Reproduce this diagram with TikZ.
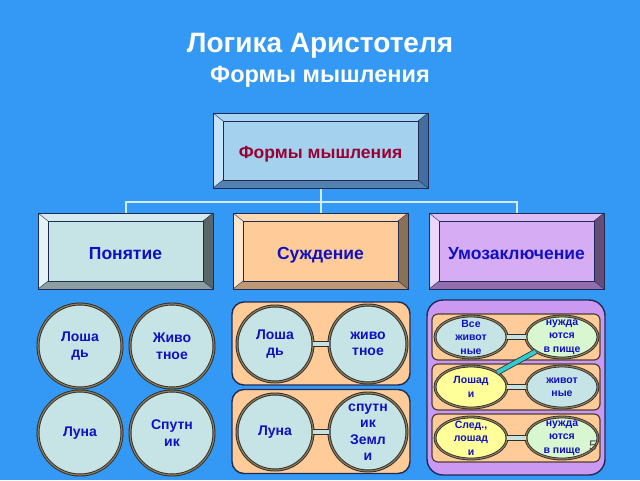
\documentclass[tikz,border=0pt]{standalone}
\usepackage{fontspec}
\setmainfont{Liberation Sans}
\usetikzlibrary{shapes.geometric}

\definecolor{sky}{HTML}{3498F5}
\definecolor{navy}{HTML}{1F2A55}
\definecolor{ink}{HTML}{1010C0}
\definecolor{wine}{HTML}{990033}
\definecolor{paleline}{HTML}{D4EAFF}
\definecolor{rim}{HTML}{2E2E2E}
\definecolor{olive}{HTML}{8C7A55}
\definecolor{cyanfill}{HTML}{C6E3E6}
\definecolor{greenfill}{HTML}{D8F6D0}
\definecolor{yellowfill}{HTML}{FFFF99}
\definecolor{peach}{HTML}{FFCC99}
\definecolor{lilac}{HTML}{CC99F2}
\definecolor{barfill}{HTML}{C8E2E2}
\definecolor{teal}{HTML}{33CCCC}

%% bevel frame round a tile: node, top, left, right, bottom colours
\newcommand{\bevel}[5]{%
  \fill[#2] (#1.north west) -- (#1.north east) -- ([shift={(-10,8)}]#1.north east) -- ([shift={(10,8)}]#1.north west) -- cycle;
  \fill[#3] (#1.north west) -- ([shift={(10,8)}]#1.north west) -- ([shift={(10,-8)}]#1.south west) -- (#1.south west) -- cycle;
  \fill[#4] (#1.north east) -- ([shift={(-10,8)}]#1.north east) -- ([shift={(-10,-8)}]#1.south east) -- (#1.south east) -- cycle;
  \fill[#5] (#1.south west) -- ([shift={(10,-8)}]#1.south west) -- ([shift={(-10,-8)}]#1.south east) -- (#1.south east) -- cycle;
  \draw[navy, line width=0.4pt] ([shift={(10,8)}]#1.north west) rectangle ([shift={(-10,-8)}]#1.south east);
  \draw[navy, line width=0.4pt] (#1.north west) -- ++(10,8) (#1.north east) -- ++(-10,8)
    (#1.south west) -- ++(10,-8) (#1.south east) -- ++(-10,-8);
  \draw[navy, line width=0.9pt] (#1.north west) rectangle (#1.south east);
}

\begin{document}
\begin{tikzpicture}[x=1pt,y=-1pt]
    \fill[sky] (0,0) rectangle (640,480);
    \useasboundingbox (0,0) rectangle (640,480);
    %% title
    \node (head) at (320,46) [white, font=\bfseries\fontsize{28}{32}\selectfont] {Логика Аристотеля};
    \node (sub) at (320,77) [white, font=\bfseries\fontsize{23.5}{28}\selectfont] {Формы мышления};
    %% tiles
    \tikzstyle{tile} = [shape=rectangle, inner sep=0pt, outer sep=0pt, minimum width=175pt, minimum height=76pt, text height=19pt, text depth=3pt, font=\bfseries\fontsize{17.5}{20}\selectfont, text=ink];
    \tikzstyle{link} = [draw=paleline, line width=2pt];
    \node (forms) [tile, fill=white!35!sky!45!cyanfill, minimum width=215pt, minimum height=75pt, text=wine] at (320.5,150.5) {Формы мышления};
    \node (pon) [tile, fill=cyanfill] at (125.5,251) {Понятие};
    \node (sud) [tile, fill=peach] at (320.5,251) {Суждение};
    \node (umo) [tile, fill=lilac!80!white] at (516.5,251) {Умозаключение};
    \draw [link] (forms.south) -- ++(0,14) -| (pon.north);
    \draw [link] (forms.south) -- ++(0,14) -| (umo.north);
    \draw [link] (forms.south) -- (sud.north);
    \bevel{forms}{white!50!sky!65!cyanfill}{white!72!sky}{navy!45!sky!70!gray}{navy!20!sky!55!gray}
    \bevel{pon}{cyanfill!75!white}{cyanfill!45!white}{cyanfill!45!black}{cyanfill!70!black}
    \bevel{sud}{peach!75!white}{peach!50!white}{peach!55!black}{peach!75!black}
    \bevel{umo}{lilac!65!white}{lilac!40!white}{lilac!50!black}{lilac!72!black}
    %% circles of the first column
    \tikzstyle{disc} = [shape=circle, draw=rim, double=olive, line width=0.9pt, double distance=1.2pt, fill=cyanfill, minimum size=84pt, inner sep=1pt, align=center, text=ink, font=\bfseries\fontsize{14}{16.5}\selectfont];
    \node (horse) [disc] at (80,346) {Лоша\\дь};
    \node (beast) [disc] at (172,346) {Живо\\тное};
    \node (moon) [disc] at (80,433) {Луна};
    \node (sat) [disc] at (172,433) {Спутн\\ик};
    %% judgements
    \tikzstyle{pill} = [shape=rectangle, draw=navy, line width=1.4pt, rounded corners=12pt, fill=peach, inner sep=0pt];
    \tikzstyle{bar} = [draw=rim, double=barfill, line width=0.8pt, double distance=4.5pt];
    \node (sr1) [pill, minimum width=178pt, minimum height=83pt] at (321,343.5) {};
    \node (sr2) [pill, minimum width=178pt, minimum height=84pt] at (321,431.5) {};
    \node (jh) [disc, minimum size=76pt] at (275,344) {Лоша\\дь};
    \node (jb) [disc, minimum size=78pt] at (368,344) {живо\\тное};
    \node (jm) [disc, minimum size=76pt] at (275,432) {Луна};
    \node (js) [disc, minimum size=78pt] at (368,432) {спутн\\ик\\Земл\\и};
    \draw [bar] (jh) -- (jb);
    \draw [bar] (jm) -- (js);
    %% syllogism
    \tikzstyle{oval} = [shape=ellipse, draw=rim, double=olive, line width=0.8pt, double distance=1.2pt, minimum width=72pt, minimum height=42pt, inner sep=0pt];
    \tikzstyle{ovaltext} = [align=center, text=ink, inner sep=0pt, font=\bfseries\fontsize{10.5}{13.5}\selectfont];
    \tikzstyle{row} = [shape=rectangle, draw=rim!80!brown, line width=1.2pt, rounded corners=6pt, fill=peach, minimum width=168pt, minimum height=46pt];
    \node (box) [shape=rectangle, draw=navy, line width=1.4pt, rounded corners=16pt, fill=lilac, minimum width=178pt, minimum height=175pt] at (516,387.5) {};
    \node (r1) [row] at (516,337) {};
    \node (r2) [row] at (516,387) {};
    \node (r3) [row, minimum height=48pt] at (516,438) {};
    \node (u1) [oval, fill=cyanfill, label={[ovaltext]center:Все\\живот\\ные}] at (471,337) {};
    \node (u2) [oval, fill=greenfill, label={[ovaltext]center:нужда\\ются\\в пище}] at (562,337) {};
    \node (u3) [oval, fill=yellowfill, label={[ovaltext]center:Лошад\\и}] at (471,387) {};
    \node (u4) [oval, fill=cyanfill, label={[ovaltext]center:живот\\ные}] at (562,387) {};
    \node (u5) [oval, fill=yellowfill, label={[ovaltext]center:След.,\\лошад\\и}] at (471,438) {};
    \node (u6) [oval, fill=greenfill, label={[ovaltext]center:нужда\\ются\\в пище}] at (562,438) {};
    \draw [bar] (u1) -- (u2);
    \draw [bar] (u3) -- (u4);
    \draw [bar] (u5) -- (u6);
    \draw [draw=rim, double=teal, line width=0.8pt, double distance=4pt] (u3) -- (u2);
    \node (page) at (593,446) [text=black!70, font=\fontsize{14}{16}\selectfont] {5};
\end{tikzpicture}
\end{document}
